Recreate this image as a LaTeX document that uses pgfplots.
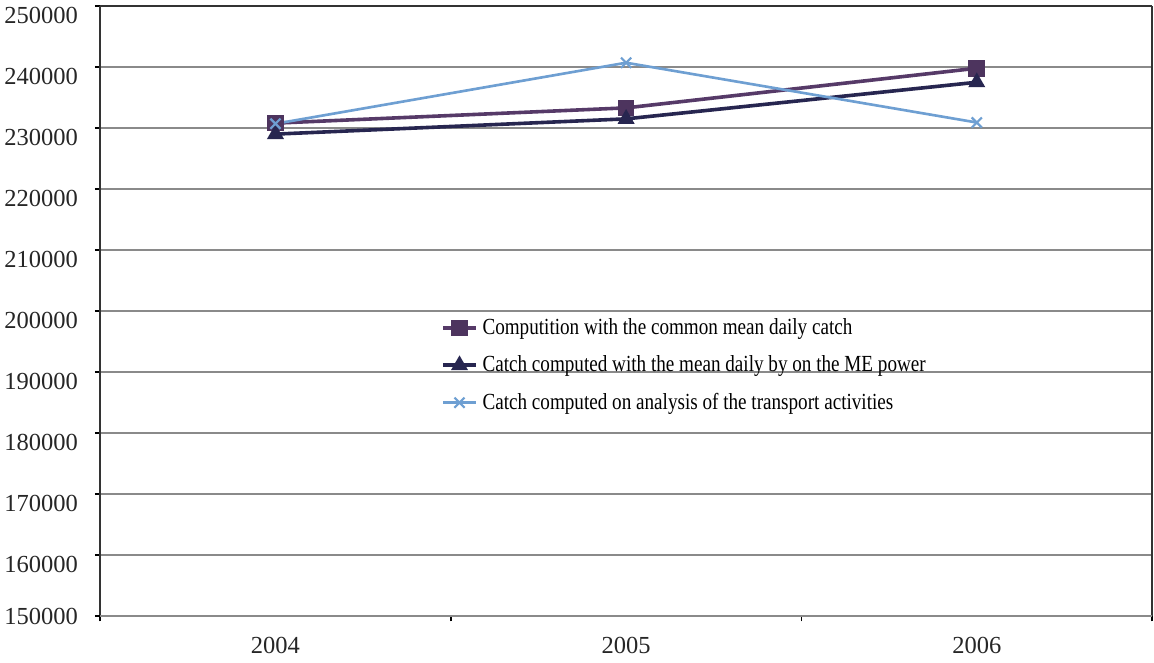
\documentclass[border=0pt]{standalone}
\usepackage{pgfplots}
\pgfplotsset{compat=1.18}
\usepackage{fontspec}
\setmainfont{Liberation Serif}
\newfontfamily\legendfont[FakeStretch=0.83]{Liberation Serif}

\definecolor{compPurple}{HTML}{563A68}
\definecolor{catchNavy}{HTML}{272650}
\definecolor{transBlue}{HTML}{6E9FD2}
\definecolor{gridGray}{HTML}{8A8A8A}

\begin{document}
\begin{tikzpicture}
\begin{axis}[
  scale only axis,
  width=438pt, height=254pt,
  xmin=-0.5, xmax=2.5,
  ymin=150000, ymax=250000,
  xtick={-0.5,0.5,1.5,2.5},
  xticklabels={2004,2005,2006},
  x tick label as interval,
  ytick={160000,170000,180000,190000,200000,210000,220000,230000,240000,250000},
  yticklabels={160000,170000,180000,190000,200000,210000,220000,230000,240000,250000},
  extra y ticks={150000},
  extra y tick labels={150000},
  extra y tick style={yticklabel style={yshift=4pt}},
  xtick pos=bottom, ytick pos=left,
  tick align=outside,
  major tick length=2.2pt,
  tick style={black, line width=0.6pt},
  ymajorgrids,
  major grid style={gridGray, line width=0.6pt},
  axis line style={gridGray, line width=0.6pt},
  separate axis lines,
  x axis line style={black!80, line width=0.9pt},
  y axis line style={black!80, line width=0.9pt},
  tick label style={font=\fontsize{10.2pt}{12pt}\selectfont, text=black!85},
  yticklabel style={xshift=-3.5pt, yshift=-4pt},
  xticklabel style={yshift=-3pt},
  legend style={
    draw=none, fill=none,
    at={(0.317,0.505)}, anchor=north west,
    font=\legendfont\fontsize{9.6pt}{11pt}\selectfont,
    row sep=3.4pt,
    legend cell align=left,
  },
  legend image code/.code={
    \draw[mark repeat=2, mark phase=2]
      plot coordinates {(0cm,0cm) (0.24cm,0cm) (0.48cm,0cm)};
  },
]
\addplot[compPurple, line width=1.5pt, mark=square*, mark size=2.7pt,
  mark options={fill=compPurple!90!black, draw=compPurple!90!black}]
  coordinates {(0,230800) (1,233300) (2,239800)};
\addlegendentry{Computition with the common mean daily catch}

\addplot[catchNavy, line width=1.5pt, mark=triangle*, mark size=2.6pt,
  mark options={fill=catchNavy, draw=catchNavy}]
  coordinates {(0,229000) (1,231500) (2,237500)};
\addlegendentry{Catch computed with the mean daily by on the ME power}

\addplot[transBlue, line width=1.1pt, mark=x, mark size=3pt,
  mark options={line width=0.9pt}]
  coordinates {(0,230700) (1,240700) (2,230900)};
\addlegendentry{Catch computed on analysis of the transport activities}
\end{axis}
\pgfresetboundingbox
\useasboundingbox ([xshift=-41.7pt,yshift=-19.3pt]current axis.south west)
  rectangle ([xshift=0.8pt,yshift=2.5pt]current axis.north east);
\end{tikzpicture}
\end{document}
